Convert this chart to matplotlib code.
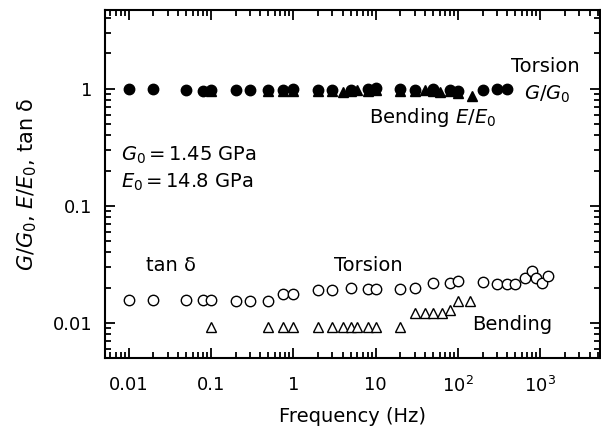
import numpy as np
import matplotlib
matplotlib.use('Agg')
import matplotlib.pyplot as plt
from matplotlib.ticker import FixedLocator, FixedFormatter, LogLocator, NullFormatter

plt.rcParams['font.family'] = ['DejaVu Sans']
plt.rcParams['mathtext.fontset'] = 'dejavusans'

# torsion: storage modulus ratio G/G0 (filled circles)
g_freq = [0.01, 0.02, 0.05, 0.08, 0.1, 0.2, 0.3, 0.5, 0.75, 1, 2, 3, 5, 8, 10,
          20, 30, 50, 80, 100, 200, 300, 400]
g_ratio = [0.99, 0.99, 0.98, 0.96, 0.97, 0.98, 0.98, 0.97, 0.98, 1.0, 0.98, 0.97, 0.98, 0.99, 1.01,
           0.99, 0.98, 0.99, 0.98, 0.96, 0.98, 0.99, 0.99]

# bending: E/E0 (filled triangles)
e_freq = [0.1, 0.5, 0.75, 1, 2, 3, 4, 5, 6, 8, 10, 20, 30, 40, 50, 60, 80, 100, 150]
e_ratio = [0.95, 0.95, 0.96, 0.96, 0.95, 0.95, 0.94, 0.96, 0.97, 0.96, 0.97, 0.95, 0.96,
           0.97, 0.95, 0.94, 0.95, 0.91, 0.87]

# tan delta, torsion (open circles)
td_t_freq = [0.01, 0.02, 0.05, 0.08, 0.1, 0.2, 0.3, 0.5, 0.75, 1, 2, 3, 5, 8, 10,
             20, 30, 50, 80, 100, 200, 300, 400, 500, 650, 800, 900, 1050, 1250]
td_t = [0.0157, 0.0157, 0.0157, 0.0157, 0.0157, 0.0155, 0.0155, 0.0155, 0.0175, 0.0175,
        0.019, 0.019, 0.020, 0.0195, 0.0195, 0.0195, 0.020, 0.0219, 0.0219, 0.023,
        0.0223, 0.0216, 0.0216, 0.0216, 0.0241, 0.028, 0.0241, 0.022, 0.0253]

# tan delta, bending (open triangles)
td_b_freq = [0.1, 0.5, 0.75, 1, 2, 3, 4, 5, 6, 8, 10, 20, 30, 40, 50, 65, 80, 100, 140]
td_b = [0.0092, 0.0092, 0.0092, 0.0092, 0.0092, 0.0092, 0.0092, 0.0092, 0.0092, 0.0092,
        0.0092, 0.0092, 0.0122, 0.0122, 0.0122, 0.0122, 0.0129, 0.0155, 0.0155]

xticks = [0.01, 0.1, 1, 10, 100, 1000]
xlabels = ['0.01', '0.1', '1', '10', '$10^2$', '$10^3$']
yticks = [0.01, 0.1, 1]
ylabels = ['0.01', '0.1', '1']


def main():
    fig = plt.figure(figsize=(6.01, 4.32), dpi=100)
    ax = fig.add_axes([0.175, 0.171, 0.823, 0.806])

    ax.plot(g_freq, g_ratio, 'o', color='black', ms=7.5, zorder=3)
    ax.plot(e_freq, e_ratio, '^', color='black', ms=7, zorder=3)
    ax.plot(td_t_freq, td_t, 'o', mfc='white', mec='black', mew=1.0, ms=7.5)
    ax.plot(td_b_freq, td_b, '^', mfc='white', mec='black', mew=1.0, ms=7)

    ax.set_xscale('log')
    ax.set_yscale('log')
    ax.set_xlim(0.0052, 5300)
    ax.set_ylim(0.005, 4.7)

    ax.xaxis.set_major_locator(FixedLocator(xticks))
    ax.xaxis.set_major_formatter(FixedFormatter(xlabels))
    ax.yaxis.set_major_locator(FixedLocator(yticks))
    ax.yaxis.set_major_formatter(FixedFormatter(ylabels))
    ax.xaxis.set_minor_locator(LogLocator(base=10, subs=np.arange(2, 10)))
    ax.yaxis.set_minor_locator(LogLocator(base=10, subs=np.arange(2, 10)))
    ax.xaxis.set_minor_formatter(NullFormatter())
    ax.yaxis.set_minor_formatter(NullFormatter())

    ax.tick_params(which='both', direction='in', top=True, right=True, width=1.3,
                   labelsize=13)
    ax.tick_params(which='major', length=7)
    ax.tick_params(which='minor', length=4.5)
    ax.tick_params(axis='x', which='major', pad=13)
    ax.tick_params(axis='y', which='major', pad=9)
    for sp in ax.spines.values():
        sp.set_linewidth(1.5)

    fs = 14
    ax.set_xlabel('Frequency (Hz)', fontsize=fs, labelpad=8)
    ax.set_ylabel('$G/G_0$, $E/E_0$, tan δ', fontsize=15, labelpad=10)

    ax.text(1150, 1.55, 'Torsion', fontsize=fs, ha='center', va='center')
    ax.text(640, 0.89, '$G/G_0$', fontsize=fs, ha='left', va='center')
    ax.text(8.4, 0.57, 'Bending $E/E_0$', fontsize=fs, ha='left', va='center')
    ax.text(0.0082, 0.27, r'$G_0\,$=$\,$1.45 GPa', fontsize=fs, ha='left', va='center')
    ax.text(0.0082, 0.16, r'$E_0\,$=$\,$14.8 GPa', fontsize=fs, ha='left', va='center')
    ax.text(0.0165, 0.031, 'tan δ', fontsize=fs, ha='left', va='center')
    ax.text(3.1, 0.031, 'Torsion', fontsize=fs, ha='left', va='center')
    ax.text(150, 0.0096, 'Bending', fontsize=fs, ha='left', va='center')

    fig.savefig('out.png', dpi=100)


if __name__ == '__main__':
    main()
